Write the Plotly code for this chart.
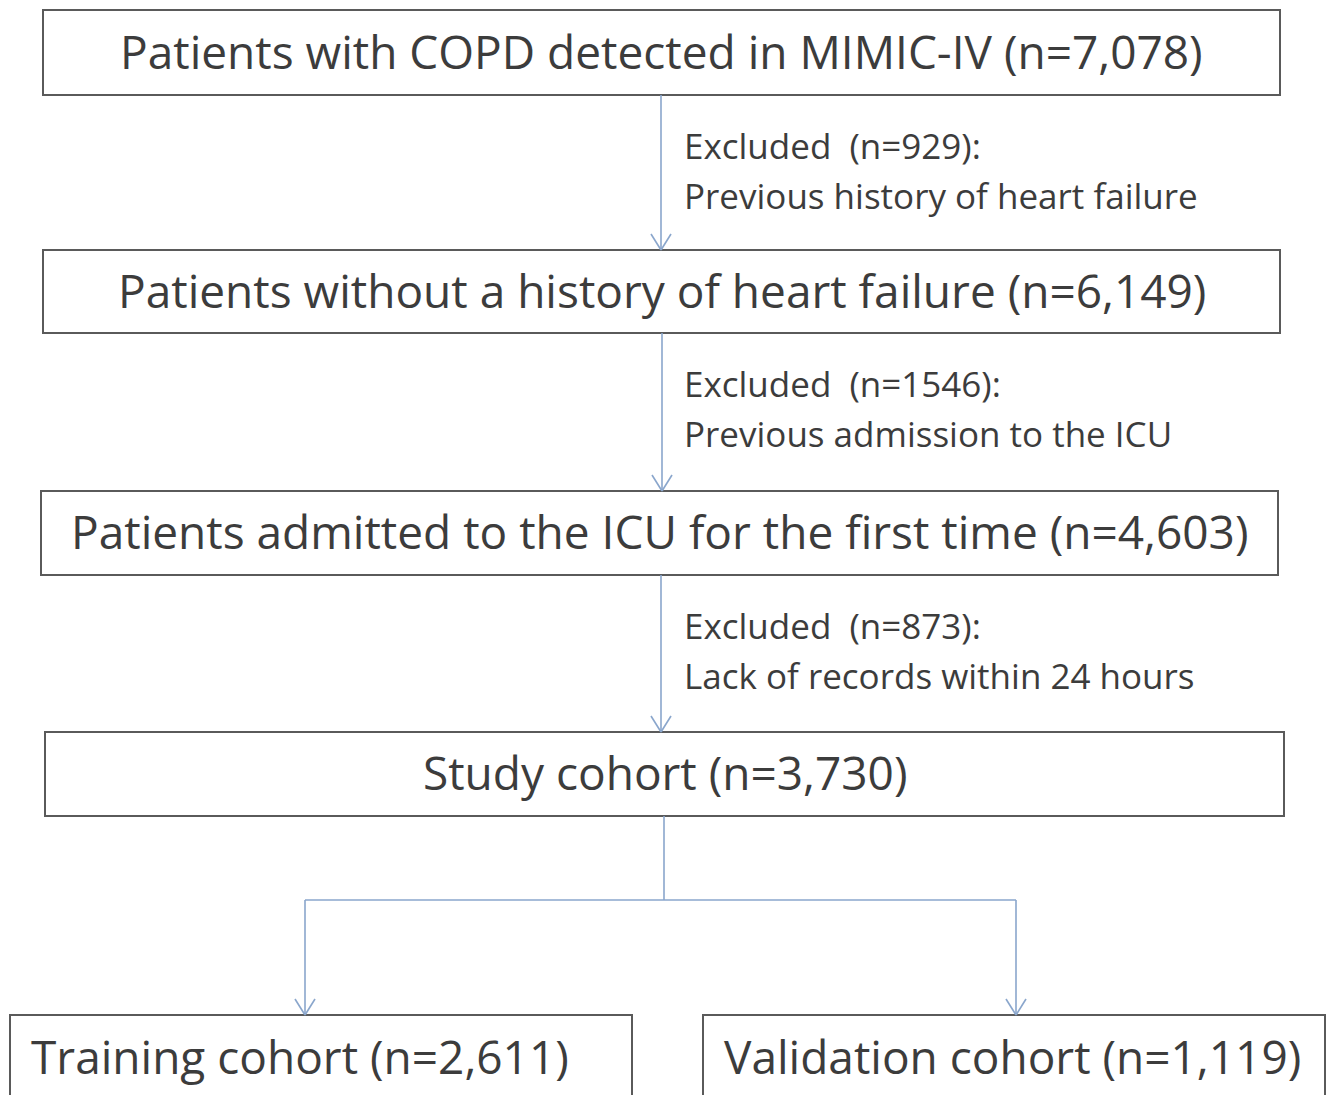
import plotly.graph_objects as go

# ---- data ----
stage_labels = [
    "Patients with COPD detected in MIMIC-IV",
    "Patients without a history of heart failure",
    "Patients admitted to the ICU for the first time",
    "Study cohort",
]
stage_n = [7078, 6149, 4603, 3730]
excluded_n = [929, 1546, 873]
excluded_reasons = [
    "Previous history of heart failure",
    "Previous admission to the ICU",
    "Lack of records within 24 hours",
]
split_labels = ["Training cohort", "Validation cohort"]
split_n = [2611, 1119]

# ---- layout geometry (pixels) ----
W, H = 1335, 1095
OFF = 8  # page body margin
FONT = "Open Sans"
BOX_COLOR = "#5a5a5a"
ARROW_COLOR = "#8aa6cc"
TEXT_COLOR = "#3c3c3c"

stage_boxes = [  # x0, x1, y0, y1
    (43, 1280, 10, 95),
    (43, 1280, 250, 333),
    (41, 1278, 491, 575),
    (45, 1284, 732, 816),
]
arrow_x = [661, 662, 661]
split_boxes = [(10, 632, 1015, 1120), (703, 1325, 1015, 1120)]
split_x = [305, 1016]
branch_y = 900
trunk_x = 664

fig = go.Figure()
shapes = []
annotations = []


def add_line(x0, y0, x1, y1):
    shapes.append(dict(type="line", x0=x0, y0=y0, x1=x1, y1=y1,
                       line=dict(color=ARROW_COLOR, width=1.6), layer="above"))


def add_arrow(x, y0, y1):
    add_line(x, y0, x, y1)
    add_line(x - 10, y1 - 16, x, y1)
    add_line(x + 10, y1 - 16, x, y1)


for (x0, x1, y0, y1), lab, n in zip(stage_boxes, stage_labels, stage_n):
    shapes.append(dict(type="rect", x0=x0, x1=x1, y0=y0, y1=y1,
                       line=dict(color=BOX_COLOR, width=2), fillcolor="white", layer="below"))
    annotations.append(dict(x=(x0 + x1) / 2, y=(y0 + y1) / 2 - 2,
                            text=f"{lab} (n={n:,})", showarrow=False,
                            font=dict(family=FONT, size=46, color=TEXT_COLOR),
                            xanchor="center", yanchor="middle"))

for i, (ax, en, reason) in enumerate(zip(arrow_x, excluded_n, excluded_reasons)):
    y_start = stage_boxes[i][3]
    y_end = stage_boxes[i + 1][2]
    add_arrow(ax, y_start, y_end)
    annotations.append(dict(x=682, y=y_start + 50, text=f"Excluded  (n={en}):",
                            showarrow=False, xanchor="left", yanchor="middle",
                            font=dict(family=FONT, size=35, color=TEXT_COLOR)))
    annotations.append(dict(x=682, y=y_start + 100, text=reason,
                            showarrow=False, xanchor="left", yanchor="middle",
                            font=dict(family=FONT, size=35, color=TEXT_COLOR)))

# branch
add_line(trunk_x, stage_boxes[3][3], trunk_x, branch_y)
add_line(split_x[0], branch_y, split_x[1], branch_y)
for sx, (x0, x1, y0, y1), lab, n in zip(split_x, split_boxes, split_labels, split_n):
    add_arrow(sx, branch_y, y0)
    shapes.append(dict(type="rect", x0=x0, x1=x1, y0=y0, y1=y1,
                       line=dict(color=BOX_COLOR, width=2), fillcolor="white", layer="below"))
    annotations.append(dict(x=x0 + 19, y=1056,
                            text=f"{lab} (n={n:,})", showarrow=False,
                            font=dict(family=FONT, size=46, color=TEXT_COLOR),
                            xanchor="left", yanchor="middle"))

fig.update_layout(
    width=W, height=H,
    margin=dict(l=0, r=0, t=0, b=0),
    paper_bgcolor="white", plot_bgcolor="white",
    xaxis=dict(range=[OFF, W + OFF], visible=False, fixedrange=True),
    yaxis=dict(range=[H + OFF, OFF], visible=False, fixedrange=True),
    shapes=shapes, annotations=annotations, showlegend=False,
)

fig.write_html("out.html")
